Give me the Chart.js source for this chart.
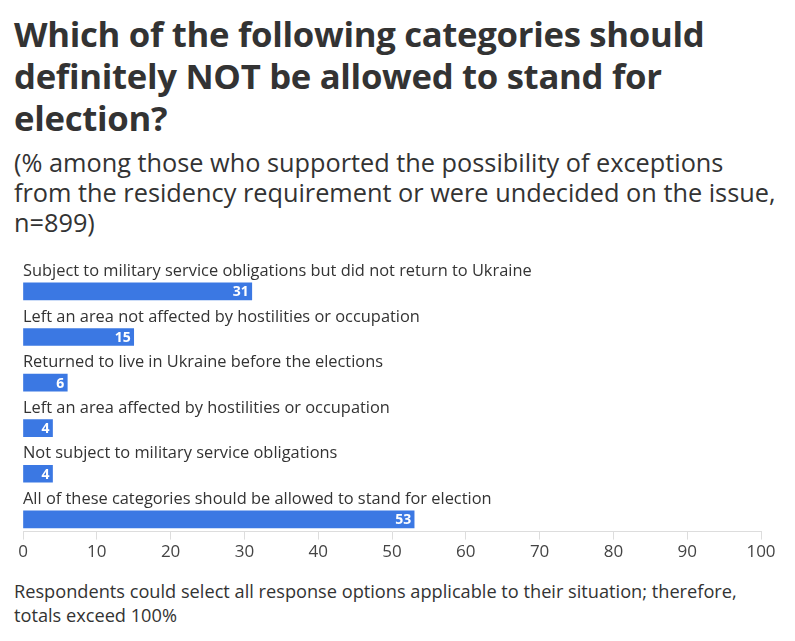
<!DOCTYPE html>
<html>
<head>
<meta charset="utf-8">
<script src="https://cdn.jsdelivr.net/npm/chart.js@4.4.1/dist/chart.umd.min.js"></script>
<style>
  body { margin: 0; background: #fff; font-family: "Open Sans", sans-serif; color: #333; }
  #wrap { position: relative; width: 795px; height: 641px; overflow: hidden; }
  #title { position: absolute; left: 14px; top: 13px; font-size: 34.7px; font-weight: 700; line-height: 42px; color: #333; letter-spacing: -0.3px; }
  #subtitle { position: absolute; left: 14px; top: 147px; font-size: 25.3px; line-height: 30px; color: #333; }
  #note { position: absolute; left: 14px; top: 580px; font-size: 18.2px; line-height: 23.5px; color: #333; }
  #chartBox { position: absolute; left: 0; top: 240px; width: 795px; height: 330px; }
</style>
</head>
<body>
<div id="wrap">
  <div id="title">Which of the following categories should<br>definitely NOT be allowed to stand for<br>election?</div>
  <div id="subtitle">(% among those who supported the possibility of exceptions<br>from the residency requirement or were undecided on the issue,<br>n=899)</div>
  <div id="chartBox"><canvas id="chart"></canvas></div>
  <div id="note">Respondents could select all response options applicable to their situation; therefore,<br>totals exceed 100%</div>
</div>
<script>
// ----------------------------------------
// Chart data
// ----------------------------------------

const categories = [
    "Subject to military service obligations but did not return to Ukraine",
    "Left an area not affected by hostilities or occupation",
    "Returned to live in Ukraine before the elections",
    "Left an area affected by hostilities or occupation",
    "Not subject to military service obligations",
    "All of these categories should be allowed to stand for election"
];
const shares = [31, 15, 6, 4, 4, 53];
const xTicks = [0, 10, 20, 30, 40, 50, 60, 70, 80, 90, 100];

const barColor = "#3b78e3";
const textColor = "#333333";

// category labels sit above each bar, values inside the bar end
const categoryLabels = {
    id: "categoryLabels",
    afterDatasetsDraw(chart) {
        const ctx = chart.ctx;
        const yScale = chart.scales.y;
        const left = chart.chartArea.left;
        ctx.save();
        ctx.font = "16.4px 'Open Sans', sans-serif";
        ctx.fillStyle = textColor;
        ctx.textAlign = "left";
        ctx.textBaseline = "middle";
        categories.forEach((name, i) => {
            ctx.fillText(name, left, yScale.getPixelForValue(i) - 20);
        });

        const meta = chart.getDatasetMeta(0);
        ctx.font = "bold 14px 'Open Sans', sans-serif";
        ctx.fillStyle = "#ffffff";
        ctx.textAlign = "right";
        meta.data.forEach((bar, i) => {
            ctx.fillText(String(shares[i]), bar.x - 3, bar.y + 1);
        });
        ctx.restore();
    }
};

new Chart(document.getElementById("chart"), {
    type: "bar",
    data: {
        datasets: [
            {
                label: "Share",
                data: shares.map((v, i) => ({ x: v, y: i })),
                backgroundColor: barColor,
                barThickness: 17,
                borderWidth: 0
            }
        ]
    },
    options: {
        indexAxis: "y",
        responsive: true,
        maintainAspectRatio: false,
        animation: false,
        layout: { padding: { left: 23, right: 34, top: 15, bottom: 6 } },
        plugins: {
            legend: { display: false },
            tooltip: { enabled: false }
        },
        scales: {
            x: {
                type: "linear",
                min: 0,
                max: 100,
                afterBuildTicks(scale) {
                    scale.ticks = xTicks.map((v) => ({ value: v }));
                },
                grid: {
                    drawOnChartArea: false,
                    drawTicks: true,
                    tickLength: 8,
                    color: "#dddddd"
                },
                border: { color: "#dddddd", width: 1 },
                ticks: {
                    color: "#444444",
                    padding: 2,
                    font: { family: "'Open Sans', sans-serif", size: 17 }
                }
            },
            y: {
                type: "linear",
                reverse: true,
                offset: false,
                grace: 0,
                min: -0.8,
                max: 5.27,
                display: false
            }
        }
    },
    plugins: [categoryLabels]
});
</script>
</body>
</html>
